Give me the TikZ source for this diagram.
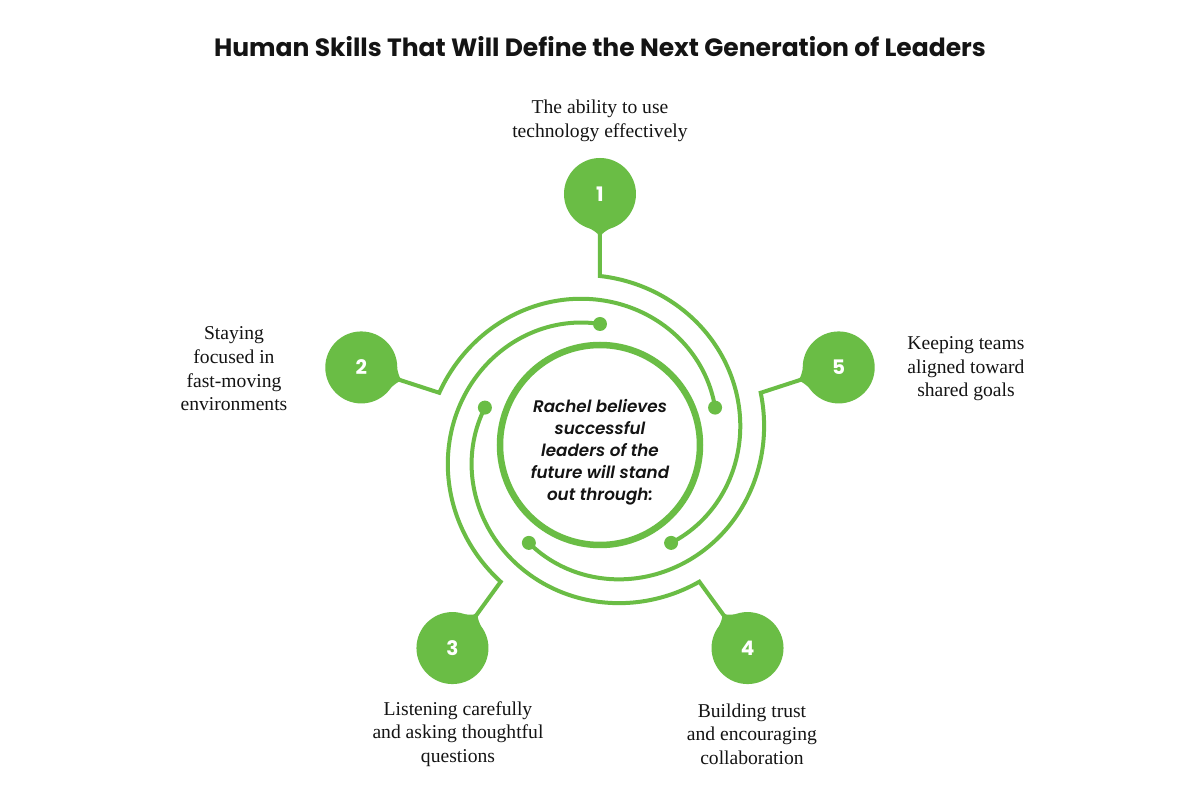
\documentclass[tikz,border=0pt]{standalone}
\usepackage{fontspec}
\usetikzlibrary{calc}
\setmainfont{Liberation Serif}
\newfontfamily\pop{Poppins}
\newfontfamily\popsb{Poppins SemiBold}[ItalicFont=Poppins SemiBold Italic]
\definecolor{gr}{RGB}{106,189,69}
\definecolor{ink}{RGB}{20,20,20}
\begin{document}
\begin{tikzpicture}[x=1pt,y=1pt,
  arm/.style={draw=gr,line width=4pt,line join=miter},
  lbl/.style={font=\fontsize{19.6}{23.6}\selectfont,align=center,text=ink,inner sep=0pt},
  ball/.style={circle,fill=gr,minimum size=72pt,inner sep=0pt,text=white,font=\pop\bfseries\fontsize{20}{20}\selectfont}]
\useasboundingbox (-600,-355) rectangle (600,445);
\fill[white] (-600,-355) rectangle (600,445);
\node[font=\pop\bfseries\fontsize{25}{28}\selectfont,text=ink] (title) at (0,398) {Human Skills That Will Define the Next Generation of Leaders};
\draw[gr,line width=6.5pt] (0,0) circle (100);
\node[font=\popsb\itshape\fontsize{16.8}{22}\selectfont,align=center,text=ink,inner sep=0pt] (centre) at (0,-7) {Rachel believes\\successful\\leaders of the\\future will stand\\out through:};
\foreach \a/\n in {90/1,18/5,-54/4,-126/3,162/2} {
  \node[ball] (b\n) at (\a:251) {\n};
  \fill[gr] ($(\a:251)+(\a+213:35)$) .. controls (\a:211) .. (\a:202) .. controls (\a:211) .. ($(\a:251)+(\a+147:35)$) -- cycle;
  \draw[arm] (b\n) -- (\a:169) -- plot[domain=0:144,samples=73,smooth] ({\a-\x}:{169-\x/3});
  \fill[gr] (\a-144:121) circle (7);
}
\node[lbl] (l1) at (0,324) {The ability to use\\technology effectively};
\node[lbl] (l2) at (-366,76) {Staying\\focused in\\fast-moving\\environments};
\node[lbl] (l5) at (366,76) {Keeping teams\\aligned toward\\shared goals};
\node[lbl] (l3) at (-142,-289) {Listening carefully\\and asking thoughtful\\questions};
\node[lbl] (l4) at (152,-289) {Building trust\\and encouraging\\collaboration};
\end{tikzpicture}
\end{document}
